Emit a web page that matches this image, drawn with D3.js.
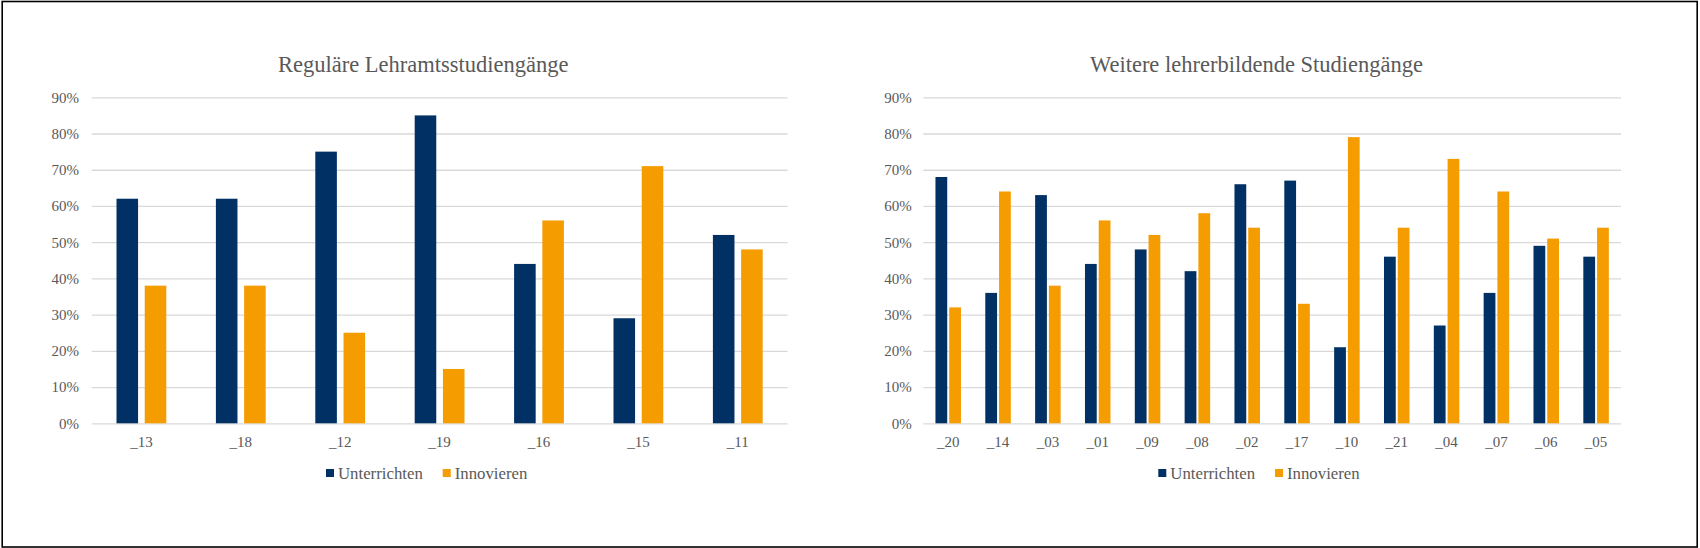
<!DOCTYPE html>
<html>
<head>
<meta charset="utf-8">
<script src="https://cdn.jsdelivr.net/npm/d3@7"></script>
<style>
  html, body { margin: 0; padding: 0; background: #fff; }
  svg { display: block; }
  text { font-family: "Liberation Serif", "Times New Roman", serif; }
</style>
</head>
<body>
<svg id="chart" width="1700" height="548"></svg>
<script>
// ---------- data ----------
const seriesNames = ["Unterrichten", "Innovieren"];
const seriesColors = ["#013064", "#F59D00"];
const yTicks = [0, 0.1, 0.2, 0.3, 0.4, 0.5, 0.6, 0.7, 0.8, 0.9];

const leftTitle = "Reguläre Lehramtsstudiengänge";
const leftCategories = ["_13", "_18", "_12", "_19", "_16", "_15", "_11"];
const leftUnterrichten = [0.62, 0.62, 0.75, 0.85, 0.44, 0.29, 0.52];
const leftInnovieren   = [0.38, 0.38, 0.25, 0.15, 0.56, 0.71, 0.48];

const rightTitle = "Weitere lehrerbildende Studiengänge";
const rightCategories = ["_20", "_14", "_03", "_01", "_09", "_08", "_02", "_17", "_10", "_21", "_04", "_07", "_06", "_05"];
const rightUnterrichten = [0.68, 0.36, 0.63, 0.44, 0.48, 0.42, 0.66, 0.67, 0.21, 0.46, 0.27, 0.36, 0.49, 0.46];
const rightInnovieren   = [0.32, 0.64, 0.38, 0.56, 0.52, 0.58, 0.54, 0.33, 0.79, 0.54, 0.73, 0.64, 0.51, 0.54];

// ---------- drawing ----------
const svg = d3.select("#chart");
svg.append("rect").attr("x", 0).attr("y", 0).attr("width", 1700).attr("height", 548).attr("fill", "#fff");
svg.append("rect")
  .attr("x", 2.2).attr("y", 1.5).attr("width", 1695).attr("height", 545.5)
  .attr("fill", "none").attr("stroke", "#000").attr("stroke-width", 1.6);

const textColor = "#595959";

function drawChart(cfg) {
  const g = svg.append("g");
  const y = d3.scaleLinear().domain([0, 0.9]).range([423.3, 97.3]);
  const x = d3.scaleBand().domain(cfg.categories).range([cfg.x0, cfg.x1]).padding(0);
  const step = x.bandwidth();
  const bw = step * cfg.barFrac;
  const gap = step * cfg.gapFrac;

  // gridlines + y labels
  const yAxis = d3.axisLeft(y).tickValues(yTicks).tickFormat(d3.format(".0%"))
    .tickSizeInner(-(cfg.x1 - cfg.x0)).tickSizeOuter(0).tickPadding(cfg.tickPad);
  const ya = g.append("g").attr("transform", `translate(${cfg.x0},0)`).call(yAxis);
  ya.select(".domain").remove();
  ya.selectAll(".tick line").attr("stroke", "#d9d9d9").attr("stroke-width", 1.3);
  ya.selectAll(".tick text").attr("fill", textColor).style("font-size", "15px")
    .style("font-family", '"Liberation Serif", "Times New Roman", serif');

  // bars
  const seriesVals = [cfg.u, cfg.i];
  seriesVals.forEach((vals, si) => {
    g.append("g").selectAll("rect")
      .data(cfg.categories.map((c, k) => ({ c, v: vals[k] })))
      .join("rect")
      .attr("x", d => x(d.c) + step / 2 + (si === 0 ? -(gap / 2 + bw) : gap / 2))
      .attr("width", bw)
      .attr("y", d => y(d.v))
      .attr("height", d => y(0) - y(d.v))
      .attr("fill", seriesColors[si]);
  });

  // x axis labels
  const xAxis = d3.axisBottom(x).tickSize(0).tickPadding(12.7);
  const xa = g.append("g").attr("transform", `translate(0,${y(0)})`).call(xAxis);
  xa.select(".domain").remove();
  xa.selectAll(".tick text").attr("fill", textColor).style("font-size", "15px")
    .style("font-family", '"Liberation Serif", "Times New Roman", serif');

  // title
  g.append("text").attr("x", cfg.titleX).attr("y", 71.7).attr("text-anchor", "middle")
    .attr("fill", textColor).style("font-size", "22.5px").text(cfg.title);

  // legend
  const lg = g.append("g");
  seriesNames.forEach((name, si) => {
    const lx = cfg.legendX[si];
    lg.append("rect").attr("x", lx).attr("y", 469).attr("width", 8).attr("height", 8)
      .attr("fill", seriesColors[si]);
    lg.append("text").attr("x", lx + 12).attr("y", 479).attr("fill", textColor)
      .style("font-size", "16.8px").text(name);
  });
}

drawChart({
  title: leftTitle, categories: leftCategories, u: leftUnterrichten, i: leftInnovieren,
  x0: 91.7, x1: 787.5, barFrac: 0.217, gapFrac: 0.067, tickPad: 12.7,
  titleX: 423.3, legendX: [326, 442.7]
});
drawChart({
  title: rightTitle, categories: rightCategories, u: rightUnterrichten, i: rightInnovieren,
  x0: 923.3, x1: 1621, barFrac: 0.236, gapFrac: 0.04, tickPad: 11.6,
  titleX: 1256.5, legendX: [1158.3, 1275]
});
</script>
</body>
</html>
